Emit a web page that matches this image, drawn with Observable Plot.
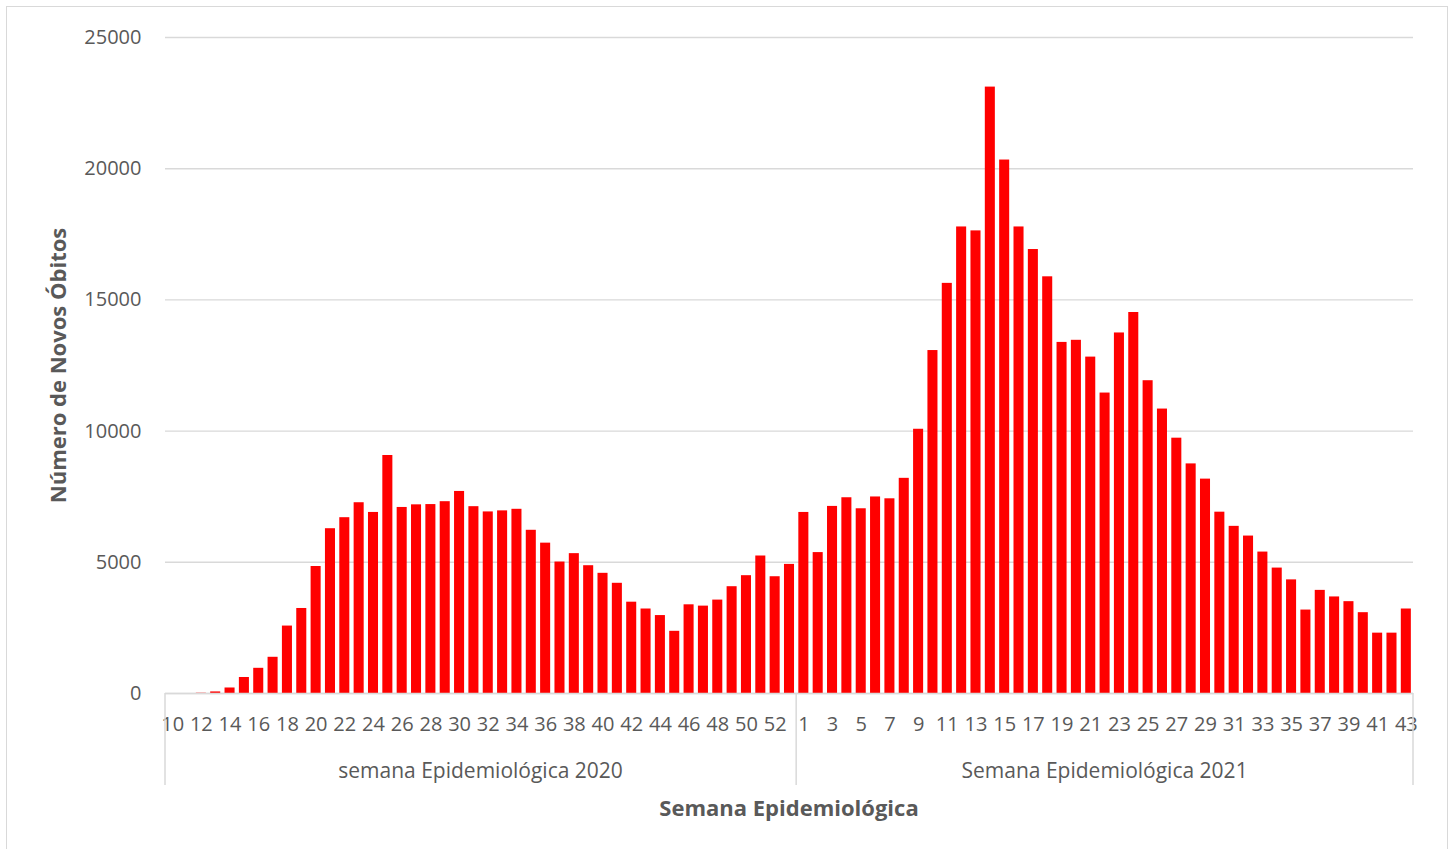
<!DOCTYPE html>
<html>
<head>
<meta charset="utf-8">
<script src="https://cdn.jsdelivr.net/npm/d3@7"></script>
<script src="https://cdn.jsdelivr.net/npm/@observablehq/plot@0.6"></script>
<style>
  html, body { margin: 0; padding: 0; background: #fff; overflow: hidden; }
  #wrap { position: relative; width: 1453px; height: 849px; }
  #frame { position: absolute; left: 6px; top: 6px; width: 1440px; height: 900px;
           border: 1.5px solid #d9d9d9; pointer-events: none; }
  #chart { position: absolute; left: 0; top: 0; }
</style>
</head>
<body>
<div id="wrap"><div id="chart"></div><div id="frame"></div></div>
<script>
// ---- data ----
const weeks2020 = [10,11,12,13,14,15,16,17,18,19,20,21,22,23,24,25,26,27,28,29,30,31,32,33,34,35,36,37,38,39,40,41,42,43,44,45,46,47,48,49,50,51,52,53];
const deaths2020 = [0,0,10,60,210,610,960,1380,2570,3240,4840,6280,6700,7270,6900,9070,7090,7190,7200,7310,7700,7120,6920,6960,7020,6220,5730,5010,5330,4870,4580,4200,3480,3220,2970,2370,3380,3330,3560,4070,4490,5240,4450,4920];
const weeks2021 = [1,2,3,4,5,6,7,8,9,10,11,12,13,14,15,16,17,18,19,20,21,22,23,24,25,26,27,28,29,30,31,32,33,34,35,36,37,38,39,40,41,42,43];
const deaths2021 = [6900,5370,7130,7460,7040,7490,7420,8200,10070,13070,15630,17780,17630,23110,20330,17780,16920,15880,13380,13460,12820,11450,13740,14520,11920,10840,9730,8750,8170,6910,6370,6000,5390,4780,4330,3180,3930,3680,3500,3080,2300,2300,3220];
const yTicks = [0, 5000, 10000, 15000, 20000, 25000];
const years = [2020, 2021];
const groupLabels = ["semana Epidemiológica 2020", "Semana Epidemiológica 2021"];
const yTitle = "Número de Novos Óbitos";
const xTitle = "Semana Epidemiológica";

// ---- table ----
const rows = [
  ...weeks2020.map((w, i) => ({year: 2020, week: w, key: `2020-${w}`, value: deaths2020[i]})),
  ...weeks2021.map((w, i) => ({year: 2021, week: w, key: `2021-${w}`, value: deaths2021[i]}))
];
const keys = rows.map(d => d.key);
const weekOf = new Map(rows.map(d => [d.key, d.week]));
const tickKeys = keys.filter((k, i) => i % 2 === 0);

const FONT = "'Open Sans', 'Liberation Sans', sans-serif";
const GREY = "#595959";
const LINE = "#d9d9d9";

function groupAxis(index, scales, values, dims) {
  const x = scales.x;
  const bw = x.bandwidth ? x.bandwidth() : 0;
  const step = x(keys[1]) - x(keys[0]);
  const pad = (step - bw) / 2;
  const y0 = dims.height - dims.marginBottom;
  const g = d3.create("svg:g");
  const bounds = years.map(yr => {
    const ks = rows.filter(d => d.year === yr).map(d => d.key);
    return [x(ks[0]) - pad, x(ks[ks.length - 1]) + bw + pad];
  });
  const seps = [bounds[0][0], bounds[1][0], bounds[1][1]];
  for (const sx of seps) {
    g.append("line").attr("x1", sx).attr("x2", sx).attr("y1", y0).attr("y2", y0 + 92)
      .attr("stroke", LINE).attr("stroke-width", 1.5);
  }
  bounds.forEach(([a, b], i) => {
    g.append("text").attr("x", (a + b) / 2).attr("y", y0 + 85)
      .attr("text-anchor", "middle").attr("fill", GREY)
      .attr("font-family", FONT).attr("font-size", 21).text(groupLabels[i]);
  });
  const cx = (dims.marginLeft + dims.width - dims.marginRight) / 2;
  g.append("text").attr("x", cx).attr("y", y0 + 123)
    .attr("text-anchor", "middle").attr("fill", GREY).attr("font-weight", "bold")
    .attr("font-family", FONT).attr("font-size", 22).text(xTitle);
  return g.node();
}

const chart = Plot.plot({
  width: 1453,
  height: 849,
  marginTop: 37,
  marginBottom: 156,
  marginLeft: 165,
  marginRight: 40,
  style: {fontFamily: FONT, background: "transparent", overflow: "visible"},
  x: {type: "band", domain: keys, paddingInner: 0.3, paddingOuter: 0.15, round: false, axis: null},
  y: {domain: [0, 25000], axis: null},
  marks: [
    Plot.gridY(yTicks, {stroke: LINE, strokeOpacity: 1, strokeWidth: 1.4}),
    Plot.axisY(yTicks, {tickSize: 0, tickPadding: 24, fontSize: 20, fill: GREY, label: null,
                        tickFormat: d => String(d)}),
    Plot.text([yTitle], {frameAnchor: "left", textAnchor: "middle", rotate: -90, dx: -107, fontSize: 22,
                         fontWeight: "bold", fill: GREY}),
    Plot.barY(rows, {x: "key", y: "value", fill: "#ff0000"}),
    Plot.ruleY([0], {stroke: LINE, strokeWidth: 1.5}),
    Plot.axisX(tickKeys, {tickSize: 0, tickPadding: 23, fontSize: 20, fill: GREY, label: null,
                          tickFormat: k => weekOf.get(k)}),
    groupAxis
  ]
});
document.getElementById("chart").appendChild(chart);
</script>
</body>
</html>
